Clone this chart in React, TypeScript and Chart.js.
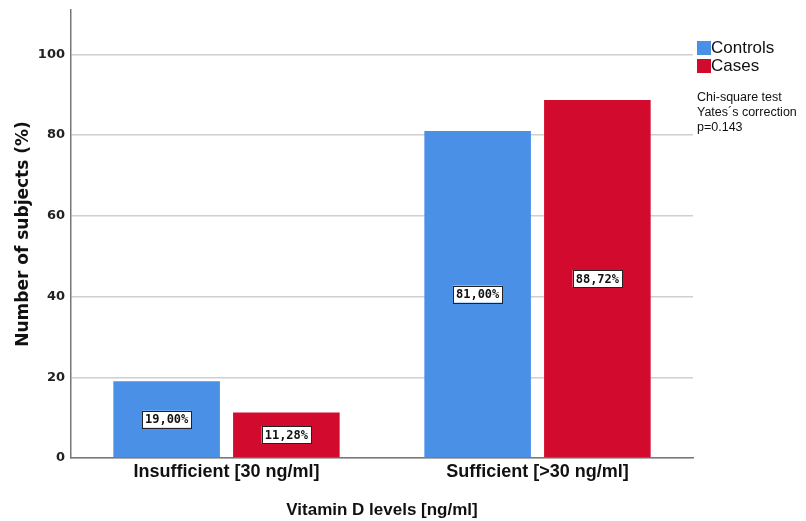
import { useEffect, useRef } from "react";
import { Chart, registerables } from "chart.js";

Chart.register(...registerables);

const categories = ["Insufficient [30 ng/ml]", "Sufficient [>30 ng/ml]"];
const controls = [19.0, 81.0];
const cases = [11.28, 88.72];
const yTicks = [0, 20, 40, 60, 80, 100];
const noteLines = ["Chi-square test", "Yates´s correction", "p=0.143"];

const BLUE = "#4a90e6";
const RED = "#d20a2e";

// white boxed percentage in the middle of every bar
const barLabels = {
  id: "barLabels",
  afterDatasetsDraw(chart: Chart) {
    const { ctx } = chart;
    ctx.save();
    ctx.font = "bold 12px 'DejaVu Sans Mono', monospace";
    ctx.textAlign = "center";
    ctx.textBaseline = "middle";
    chart.data.datasets.forEach((ds, di) => {
      chart.getDatasetMeta(di).data.forEach((bar: any, i) => {
        const v = ds.data[i] as number;
        const txt = v.toFixed(2).replace(".", ",") + "%";
        const y = (bar.y + bar.base) / 2;
        const w = ctx.measureText(txt).width + 6;
        const h = 17;
        ctx.fillStyle = "#fff";
        ctx.fillRect(bar.x - w / 2, y - h / 2, w, h);
        ctx.strokeStyle = "#222";
        ctx.lineWidth = 1;
        ctx.strokeRect(Math.round(bar.x - w / 2) + 0.5, Math.round(y - h / 2) + 0.5, Math.round(w), h);
        ctx.fillStyle = "#111";
        ctx.fillText(txt, bar.x, y + 1);
      });
    });
    ctx.restore();
  },
};

// legend and test note on the right
const sideNote = {
  id: "sideNote",
  afterDraw(chart: Chart) {
    const { ctx } = chart;
    const x = chart.chartArea.right + 4;
    ctx.save();
    ctx.font = "17px 'Liberation Sans', Arial, sans-serif";
    ctx.textBaseline = "middle";
    chart.data.datasets.forEach((ds, i) => {
      const y = 48 + i * 18;
      ctx.fillStyle = ds.backgroundColor as string;
      ctx.fillRect(x, y - 7, 14, 14);
      ctx.fillStyle = "#111";
      ctx.fillText(ds.label as string, x + 14, y);
    });
    ctx.font = "12.5px 'Liberation Sans', Arial, sans-serif";
    noteLines.forEach((t, i) => ctx.fillText(t, x, 98 + i * 15));
    ctx.restore();
  },
};

export default function App() {
  const canvasRef = useRef<HTMLCanvasElement>(null);

  useEffect(() => {
    const chart = new Chart(canvasRef.current!, {
      type: "bar",
      data: {
        labels: categories,
        datasets: [
          { label: "Controls", data: controls, backgroundColor: BLUE },
          { label: "Cases", data: cases, backgroundColor: RED },
        ],
      },
      options: {
        responsive: true,
        maintainAspectRatio: false,
        animation: false,
        layout: { padding: { top: 10, right: 113, left: 13, bottom: 0 } },
        datasets: { bar: { categoryPercentage: 0.77, barPercentage: 0.89 } },
        plugins: { legend: { display: false }, tooltip: { enabled: false } },
        scales: {
          x: {
            grid: { display: false },
            border: { color: "#777", width: 1.5 },
            ticks: {
              color: "#111",
              padding: -5,
              font: { family: "'Liberation Sans', Arial, sans-serif", size: 18, weight: "bold" },
            },
            title: {
              display: true,
              text: "Vitamin D levels [ng/ml]",
              color: "#111",
              padding: { top: 14, bottom: 0 },
              font: { family: "'Liberation Sans', Arial, sans-serif", size: 17, weight: "bold" },
            },
            afterFit(scale: any) {
              scale.height = 63;
            },
          },
          y: {
            min: 0,
            max: 111,
            afterBuildTicks(scale: any) {
              scale.ticks = yTicks.map((v) => ({ value: v }));
            },
            grid: { color: "#cfcfcf", lineWidth: 1.5, drawTicks: false },
            border: { color: "#777", width: 1.5 },
            ticks: {
              color: "#222",
              padding: 6,
              font: { family: "'DejaVu Sans', sans-serif", size: 13, weight: "bold" },
            },
            title: {
              display: true,
              text: "Number of subjects (%)",
              color: "#111",
              padding: { top: 0, bottom: 6 },
              font: { family: "'DejaVu Sans', sans-serif", size: 17, weight: "bold" },
            },
            afterFit(scale: any) {
              scale.width = 58;
              scale.paddingTop = 0;
            },
          },
        },
      },
      plugins: [barLabels, sideNote],
    });
    return () => chart.destroy();
  }, []);

  return (
    <div style={{ position: "fixed", left: 0, top: 0, width: 806, height: 521, background: "#fff" }}>
      <canvas ref={canvasRef} />
    </div>
  );
}
